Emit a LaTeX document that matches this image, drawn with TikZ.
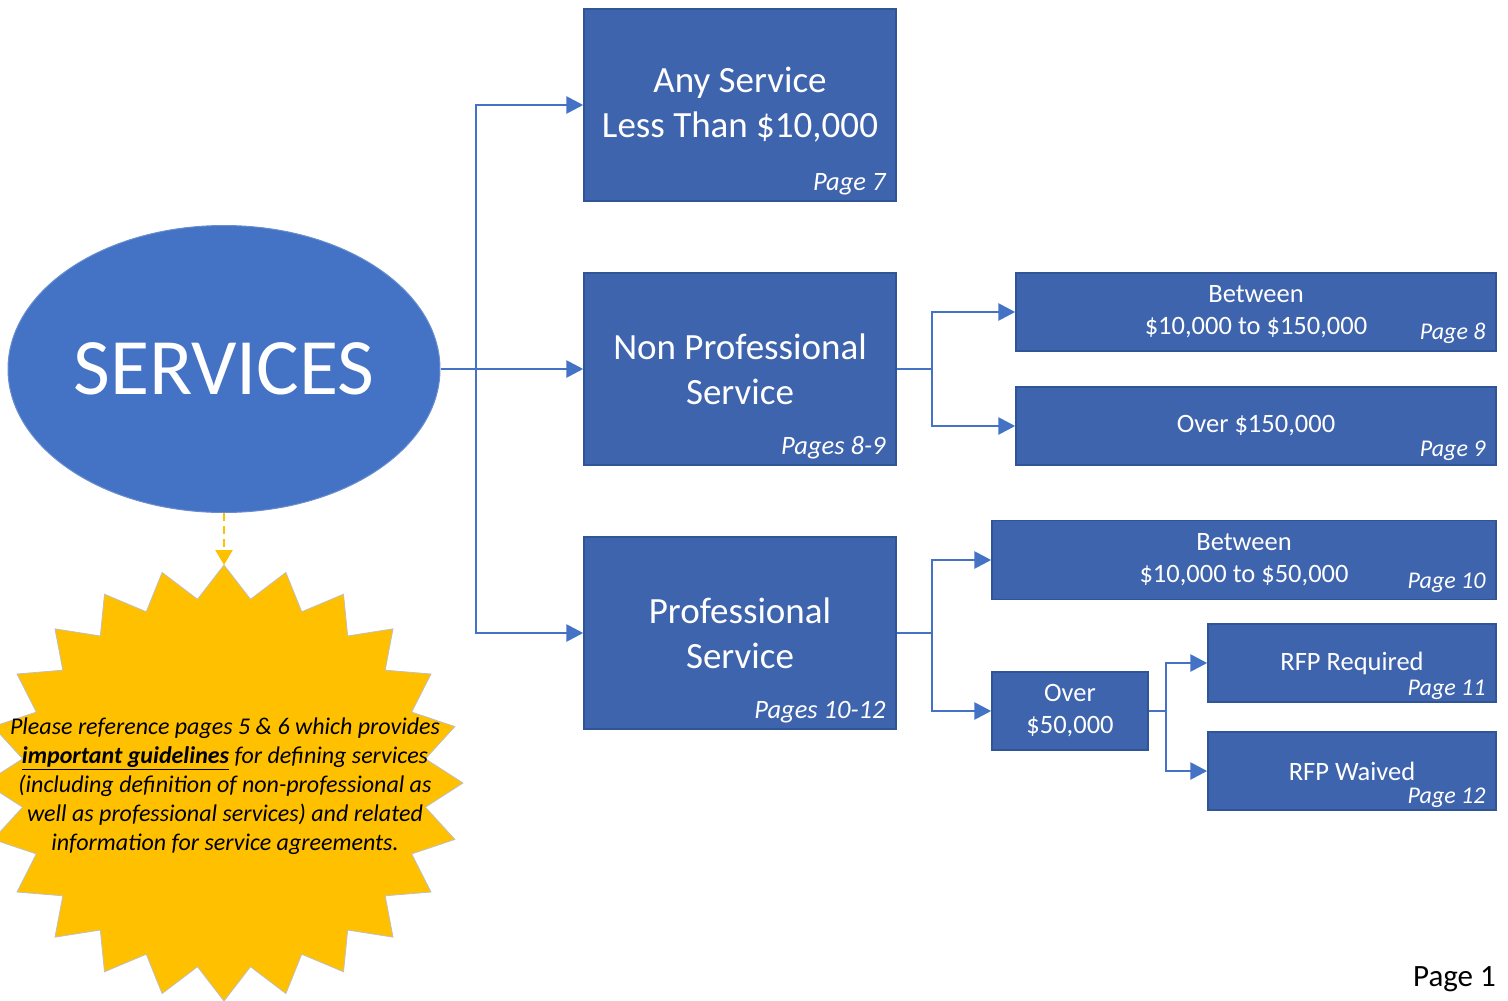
\documentclass[tikz,border=0pt]{standalone}
\usepackage{fontspec}
\setmainfont{Carlito}
\usetikzlibrary{arrows.meta,shapes.geometric,calc}
\definecolor{boxblue}{HTML}{3F64AE}
\definecolor{boxedge}{HTML}{2F5597}
\definecolor{lineblue}{HTML}{4472C4}
\definecolor{gold}{HTML}{FFC000}
\begin{document}
\begin{tikzpicture}[x=1pt,y=-1pt,
  box/.style={rectangle, fill=boxblue, draw=boxedge, line width=1.5pt, text=white, align=center, inner sep=0pt},
  bigtxt/.style={font=\fontsize{37}{45}\selectfont},
  smalltxt/.style={font=\fontsize{26.5}{32}\selectfont},
  pagelbl/.style={text=white, inner sep=0pt, anchor=base east},
  bigpage/.style={font=\fontsize{26.5}{30}\itshape},
  smallpage/.style={font=\fontsize{24}{28}\itshape},
  conn/.style={draw=lineblue, line width=2.8pt, -{Triangle[length=17pt,width=17pt]}},
  plain/.style={draw=lineblue, line width=2.8pt},
]
\useasboundingbox (0,0) rectangle (1508,1001);

% star
\path[fill=gold, draw=black!25, line width=0.8pt]
  (224,565) \foreach \k [evaluate=\k as \r using {ifthenelse(mod(\k,2)==0,1,0.85)}] in {1,...,47} {
    -- ({224+239*\r*cos(90+7.5*\k)},{783-218*\r*sin(90+7.5*\k)}) } -- cycle;
\coordinate (startop) at (224,565);

\node[ellipse, fill=lineblue, draw=lineblue!80!white, line width=1pt, minimum width=432pt, minimum height=287pt, inner sep=0pt, text=white, font=\fontsize{80}{90}\selectfont] (svc) at (224,369) {SERVICES};

\draw[draw=gold, line width=2.5pt, dash pattern=on 8pt off 5pt, -{Triangle[length=15pt,width=17pt]}] (svc.south) -- (startop);

\node[align=center, inner sep=0pt, font=\fontsize{24}{29}\itshape] (note) at (225,786)
  {Please reference pages 5 \& 6 which provides\\
   \underline{\textbf{important guidelines}} for defining services\\
   (including definition of non-professional as\\
   well as professional services) and related\\
   information for service agreements.};

% main boxes
\node[box, bigtxt, minimum width=312pt, minimum height=192pt] (b1) at (740,105) {Any Service\\Less Than \$10,000};
\node[box, bigtxt, minimum width=312pt, minimum height=192pt] (b2) at (740,369) {Non Professional\\Service};
\node[box, bigtxt, minimum width=312pt, minimum height=192pt] (b3) at (740,633) {Professional\\Service};
\node[pagelbl, bigpage] (p1) at ($(b1.south east)+(-11,-11)$) {Page 7};
\node[pagelbl, bigpage] (p2) at ($(b2.south east)+(-11,-11)$) {Pages 8-9};
\node[pagelbl, bigpage] (p3) at ($(b3.south east)+(-11,-11)$) {Pages 10-12};

% sub boxes
\node[box, smalltxt, minimum width=480pt, minimum height=78pt] (b4) at (1256,312) {Between\\\$10,000 to \$150,000};
\node[box, smalltxt, minimum width=480pt, minimum height=78pt] (b5) at (1256,426) {Over \$150,000};
\node[box, smalltxt, minimum width=504pt, minimum height=79pt] (b6) at (1244,560) {Between\\\$10,000 to \$50,000};
\node[box, smalltxt, minimum width=156pt, minimum height=78pt] (b7) at (1070,711) {Over\\\$50,000};
\node[box, smalltxt, minimum width=288pt, minimum height=78pt] (b8) at (1352,663) {RFP Required};
\node[box, smalltxt, minimum width=288pt, minimum height=78pt] (b9) at (1352,771) {RFP Waived};
\node[pagelbl, smallpage] (p4) at ($(b4.south east)+(-11,-12)$) {Page 8};
\node[pagelbl, smallpage] (p5) at ($(b5.south east)+(-11,-9)$) {Page 9};
\node[pagelbl, smallpage] (p6) at ($(b6.south east)+(-11,-12)$) {Page 10};
\node[pagelbl, smallpage] (p8) at ($(b8.south east)+(-11,-7)$) {Page 11};
\node[pagelbl, smallpage] (p9) at ($(b9.south east)+(-11,-7)$) {Page 12};

% connectors
\coordinate (j1) at (476,369);
\coordinate (j2) at (932,369);
\coordinate (j3) at (932,633);
\coordinate (j4) at (1166,711);
\draw[conn] (svc.east) -- (b2.west);
\draw[conn] (j1) |- (b1.west);
\draw[conn] (j1) |- (b3.west);
\draw[plain] (b2.east) -- (j2);
\draw[conn] (j2) |- (b4.west);
\draw[conn] (j2) |- (b5.west);
\draw[plain] (b3.east) -- (j3);
\draw[conn] (j3) |- (b6.west);
\draw[conn] (j3) |- (b7.west);
\draw[plain] (b7.east) -- (j4);
\draw[conn] (j4) |- (b8.west);
\draw[conn] (j4) |- (b9.west);

\node[anchor=base east, inner sep=0pt, font=\fontsize{31}{34}\selectfont] (pg) at (1496,986) {Page 1};
\end{tikzpicture}
\end{document}
